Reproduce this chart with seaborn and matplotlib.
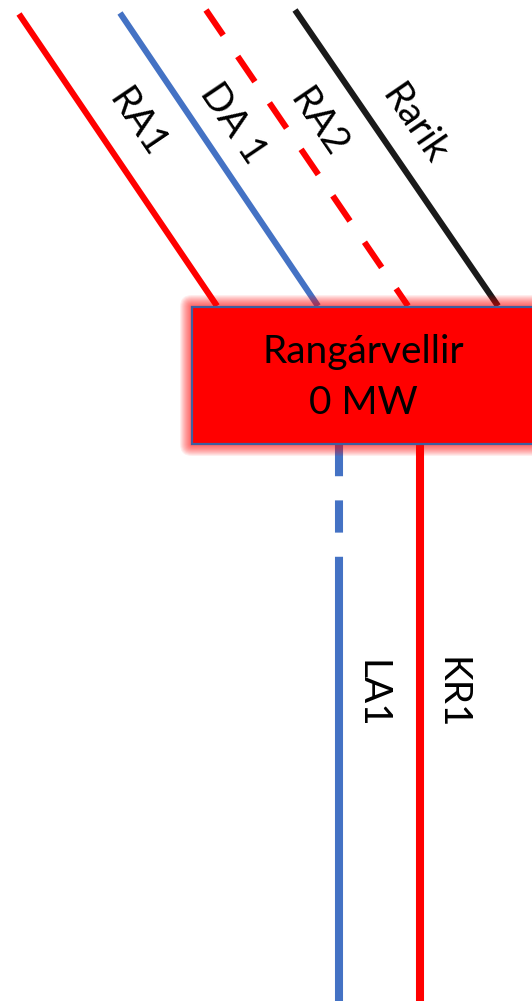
import numpy as np
import pandas as pd
import matplotlib.pyplot as plt
import seaborn as sns
from matplotlib.patches import FancyBboxPatch, Rectangle

sns.set_style('white')
plt.rcParams['font.family'] = ['Lato', 'DejaVu Sans']

# 上方进线 (像素坐标, y 向下)
top_names = ['RA1', 'DA 1', 'RA2', 'Rarik']
top_x0 = [19, 120, 206, 295]
top_y0 = [14, 13, 10, 10]
top_x1 = [217, 318, 408, 498]
top_y1 = [306, 306, 306, 306]
top_colors = ['#ff0000', '#4472c4', '#ff0000', '#1a1a1a']
top_dashed = [False, False, True, False]
top_label_x = [137, 233, 318, 414]
top_label_y = [123, 123, 123, 125]

# 下方出线
bot_names = ['LA1', 'KR1']
bot_x = [339, 420]
bot_y0 = [444, 444]
bot_y1 = [1001, 1001]
bot_colors = ['#4472c4', '#ff0000']
bot_dash_end = [557, None]   # LA1 上段为虚线
bot_label_x = [372, 452]
bot_label_y = [694, 693]

station = 'Rangárvellir'
power = '0 MW'
box_left, box_top, box_bottom = 192, 307, 444

fig = plt.figure(figsize=(5.32, 10.01), dpi=100)
ax = fig.add_axes([0, 0, 1, 1])
ax.set_xlim(0, 532)
ax.set_ylim(1001, 0)
ax.axis('off')

line_kw = dict(sort=False, estimator=None, zorder=1,
               solid_capstyle='butt', dash_capstyle='butt')

for i, name in enumerate(top_names):
    df = pd.DataFrame({'x': [top_x0[i], top_x1[i]], 'y': [top_y0[i], top_y1[i]]})
    ls = (0, (5, 4.2)) if top_dashed[i] else '-'
    sns.lineplot(data=df, x='x', y='y', ax=ax, color=top_colors[i], lw=4.4,
                 linestyle=ls, **line_kw)
    ang = -np.degrees(np.arctan2(top_y1[i] - top_y0[i], top_x1[i] - top_x0[i]))
    ax.text(top_label_x[i], top_label_y[i], name, rotation=ang, rotation_mode='anchor',
            ha='center', va='center', fontsize=28, color='black')

for i, name in enumerate(bot_names):
    if bot_dash_end[i] is not None:
        df = pd.DataFrame({'x': [bot_x[i], bot_x[i]], 'y': [bot_y0[i], bot_dash_end[i]]})
        sns.lineplot(data=df, x='x', y='y', ax=ax, color=bot_colors[i], lw=5.8,
                     linestyle=(0, (4, 3)), **line_kw)
        df = pd.DataFrame({'x': [bot_x[i], bot_x[i]], 'y': [bot_dash_end[i], bot_y1[i]]})
    else:
        df = pd.DataFrame({'x': [bot_x[i], bot_x[i]], 'y': [bot_y0[i], bot_y1[i]]})
    sns.lineplot(data=df, x='x', y='y', ax=ax, color=bot_colors[i], lw=5.8, **line_kw)
    ax.text(bot_label_x[i], bot_label_y[i], name, rotation=-90, ha='center', va='center',
            fontsize=28, color='black')

# 红色光晕
for k in range(1, 13):
    ax.add_patch(FancyBboxPatch((box_left - k, box_top - k), 600, box_bottom - box_top + 2 * k,
                                boxstyle='round,pad=0,rounding_size=%d' % k,
                                facecolor='#ff0000', edgecolor='none', alpha=0.07, zorder=2))
ax.add_patch(Rectangle((box_left, box_top), 600, box_bottom - box_top,
                       facecolor='#ff0000', edgecolor='#3f5fa0', lw=1.6, zorder=3))
ax.text(363, 352, station, ha='center', va='center', fontsize=28, color='black', zorder=4)
ax.text(363, 403, power, ha='center', va='center', fontsize=28, color='black', zorder=4)

plt.savefig('out.png', dpi=100, facecolor='white')
